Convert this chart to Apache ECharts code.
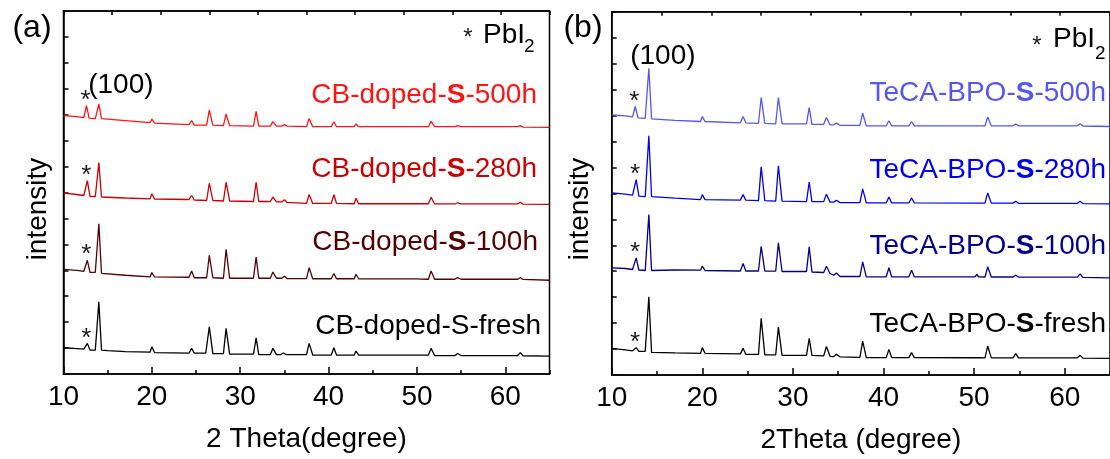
<!DOCTYPE html>
<html>
<head>
<meta charset="utf-8">
<script src="https://cdn.jsdelivr.net/npm/echarts@6/dist/echarts.min.js"></script>
<style>
html, body { margin: 0; padding: 0; background: #fff; }
#chart { width: 1110px; height: 459px; }
</style>
</head>
<body>
<div id="chart"></div>
<script>
// XRD patterns: [2θ (degree), intensity (a.u., stacked)]
const cb500 = [[10,259],[11.5,258],[12.3,257],[12.6,269],[12.9,256.5],[13.6,256],[14.0,270.7],[14.3,256],[17,254],[19.8,252],[20.0,255.7],[20.3,251.5],[24.2,250],[24.5,254],[24.8,249.5],[26.2,249.5],[26.5,264.7],[26.9,249.5],[28.1,249],[28.4,260.7],[28.8,249],[31.5,248.5],[31.8,263.3],[32.1,248.5],[33.4,248.5],[33.7,253],[34.1,248.5],[34.7,248.5],[35.0,250],[35.3,248.5],[37.5,248],[37.8,256.3],[38.2,248],[40.3,248],[40.6,253],[40.9,248],[42.9,248],[43.1,250.7],[43.4,248],[50.0,248],[50.2,248.5],[50.4,248],[51.3,248],[51.6,253.3],[52.0,248],[54.3,248],[54.6,249],[55.0,248],[61.4,248],[61.7,249],[62.0,247.5],[65,247.3]];
const cb280 = [[10,181.3],[11.5,180],[12.3,179],[12.7,194],[13.0,178],[13.6,178],[14.0,212],[14.3,177.5],[17,176.5],[19.8,175.7],[20.0,180.7],[20.3,175.5],[24.2,175],[24.5,179],[24.8,174.5],[26.2,174],[26.5,191.3],[26.9,174],[28.1,173.5],[28.4,192.3],[28.8,173.5],[31.5,173],[31.8,192.3],[32.1,173],[33.4,173],[33.7,177.3],[34.1,172.5],[34.7,172.5],[35.0,174.7],[35.3,172],[37.5,171],[37.8,180],[38.2,171],[40.3,171],[40.6,179.7],[40.9,171],[42.9,170.7],[43.1,176.3],[43.4,170.7],[50.0,170.7],[50.2,171.7],[50.4,170.7],[51.3,170.7],[51.6,177.3],[52.0,170.5],[54.3,170.5],[54.6,171.7],[55.0,170.5],[61.4,170.5],[61.7,172.3],[62.0,170.3],[65,170]];
const cb100 = [[10,105],[11.5,104],[12.3,103],[12.7,114],[13.0,102],[13.6,102],[14.0,150.7],[14.3,101],[17,99],[19.8,97.3],[20.0,101.7],[20.3,97.3],[24.2,97],[24.5,103.3],[24.8,96.5],[26.2,96.5],[26.5,119],[26.9,96.5],[28.1,96],[28.4,125],[28.8,96],[31.5,96],[31.8,117.3],[32.1,96],[33.4,96],[33.7,102.3],[34.1,96],[34.7,96],[35.0,98],[35.3,95.7],[37.5,95.7],[37.8,106.7],[38.2,95.5],[40.3,95.5],[40.6,100.7],[40.9,95.5],[42.9,95.5],[43.1,100],[43.4,95.5],[50.0,95.3],[50.2,97],[50.4,95.2],[51.3,95],[51.6,103.3],[52.0,95],[54.3,95],[54.6,96.7],[55.0,95],[59.3,95],[59.5,96],[59.7,95],[61.4,95],[61.7,96.7],[62.0,94.8],[65,94]];
const cbFresh = [[10,26.3],[11.5,25.5],[12.3,25],[12.7,30.7],[13.0,24],[13.6,24],[14.0,72.3],[14.3,24],[15,23.5],[17,22.5],[19.8,22],[20.0,27.3],[20.3,21.5],[24.2,21],[24.5,25.7],[24.8,21],[26.1,21],[26.5,47.3],[26.9,20.5],[28.1,20.5],[28.4,45.7],[28.8,20],[31.5,20],[31.8,36.3],[32.1,19.5],[33.4,19.5],[33.7,25.7],[34.1,19.5],[34.6,19.5],[34.9,21],[35.2,19.5],[37.5,19.5],[37.8,30.7],[38.2,19],[40.3,19],[40.6,26.3],[40.9,19],[42.9,19],[43.1,23],[43.4,19],[50.0,19],[50.2,20],[50.4,19],[51.3,19],[51.6,25.7],[52.0,18.5],[54.3,18.5],[54.6,20.5],[55.0,18.5],[61.4,18.5],[61.7,21.5],[62.0,18.3],[65,18]];

const te500 = [[10,260.7],[11.5,259.7],[12.3,258.7],[12.6,269],[12.9,257.7],[13.7,257.2],[14.1,307.4],[14.4,256.7],[17,255.2],[19.8,254],[20.0,259],[20.3,254],[24.2,252.7],[24.5,259],[24.8,252.7],[26.2,252.2],[26.5,278],[26.9,252.2],[28.1,251.7],[28.4,278],[28.8,251.7],[31.5,251.7],[31.8,268],[32.1,251.2],[33.4,251.2],[33.7,258],[34.1,250.7],[34.5,250.7],[34.8,252.4],[35.2,250.2],[37.4,250.2],[37.7,262.4],[38.1,249.7],[40.3,249.7],[40.6,254.7],[40.9,249.7],[42.8,249.7],[43.1,254],[43.4,249.7],[50.1,249.7],[50.3,251.7],[50.5,249.7],[51.2,249.7],[51.5,258.4],[51.9,249.7],[54.3,249.7],[54.6,251.4],[54.9,249.7],[60.3,249.7],[60.5,250.7],[60.7,249.7],[61.4,249.7],[61.7,251.7],[62.0,249.5],[65,249]];
const te280 = [[10,182.4],[11.5,181.2],[12.3,180.2],[12.7,195.7],[13.0,179.2],[13.7,178.7],[14.1,239.7],[14.4,178.7],[17,177.2],[19.8,175.7],[20.0,180.7],[20.3,175.7],[24.2,175.2],[24.5,180.7],[24.8,175.2],[26.2,174.7],[26.5,208.7],[26.9,174.7],[28.1,174.2],[28.4,209.7],[28.8,174.2],[31.5,173.7],[31.8,193.4],[32.1,173.7],[33.4,173.7],[33.7,181.2],[34.1,173.2],[34.5,173.2],[34.8,175],[35.2,172.7],[37.4,172.7],[37.7,186.4],[38.1,172.4],[40.3,172.4],[40.6,178.4],[40.9,172.4],[42.8,172.4],[43.1,177.4],[43.4,172.4],[50.1,172.3],[50.3,173.7],[50.5,172.3],[51.2,172.2],[51.5,182.4],[51.9,172.2],[54.3,172.2],[54.6,174],[54.9,172.1],[60.3,172],[60.5,172.7],[60.7,172],[61.4,172],[61.7,174],[62.0,171.8],[65,171.4]];
const te100 = [[10,107.4],[11.5,106.7],[12.3,105.7],[12.7,117.4],[13.0,105.2],[13.7,104.7],[14.1,160.7],[14.4,104.7],[17,105.2],[19.8,105],[20.0,109],[20.3,104.7],[24.2,104.2],[24.5,111.7],[24.8,104.2],[26.2,104.2],[26.5,129],[26.9,104],[28.1,104],[28.4,132.4],[28.8,103.7],[31.5,103.7],[31.8,128.4],[32.1,103.2],[33.4,102.7],[33.7,109],[34.1,101.7],[34.5,100],[34.8,102.2],[35.2,98.7],[37.4,98.7],[37.7,113.4],[38.1,98.4],[40.3,98.4],[40.6,107.4],[40.9,98.4],[42.8,98.4],[43.1,105],[43.4,98.4],[50.1,98.3],[50.3,100.7],[50.5,98.3],[51.2,98.2],[51.5,108.4],[51.9,98.2],[54.3,98.2],[54.6,100],[54.9,98.1],[60.3,98],[60.5,99.2],[60.7,98],[61.4,98],[61.7,101.4],[62.0,97.8],[65,97.4]];
const teFresh = [[10,26.7],[11.5,25.2],[12.3,24.2],[12.7,27.4],[13.0,23.7],[13.7,23.7],[14.1,78.4],[14.4,22.7],[17,22.2],[19.8,21.7],[20.0,27.4],[20.3,21.7],[24.2,21.2],[24.5,26.7],[24.8,20.7],[26.2,20.7],[26.5,56.7],[26.9,20.2],[28.1,20.2],[28.4,48],[28.8,19.7],[31.5,19.7],[31.8,36.7],[32.1,19.7],[33.4,19.2],[33.7,28.5],[34.1,18.7],[34.5,18.5],[34.8,20.7],[35.2,18.2],[37.4,17.7],[37.7,34],[38.1,17.4],[40.3,17.4],[40.6,25.7],[40.9,17.4],[42.8,17.4],[43.1,22.4],[43.4,17.4],[50.1,17.3],[50.3,18.4],[50.5,17.3],[51.2,17.2],[51.5,29],[51.9,17.2],[54.3,17.2],[54.6,21.4],[54.9,17.2],[60.3,17.2],[60.5,18.2],[60.7,17.2],[61.4,17.2],[61.7,19.7],[62.0,17],[65,16.7]];

// sample names (the bold "S" is marked with {b|...})
const namesA = ['CB-doped-{b|S}-500h', 'CB-doped-{b|S}-280h', 'CB-doped-{b|S}-100h', 'CB-doped-S-fresh'];
const namesB = ['TeCA-BPO-{b|S}-500h', 'TeCA-BPO-{b|S}-280h', 'TeCA-BPO-{b|S}-100h', 'TeCA-BPO-{b|S}-fresh'];
const colorsA = ['#ff1414', '#cc0000', '#560000', '#000000'];
const colorsB = ['#5555f2', '#0000f0', '#00008c', '#000000'];
const xTicks = [10, 20, 30, 40, 50, 60];

const FONT = '"Liberation Sans", Arial, Helvetica, sans-serif';
const tracesA = [cb500, cb280, cb100, cbFresh];
const tracesB = [te500, te280, te100, teFresh];

// strongest point of a pattern inside a 2θ window
function peakIn(trace, lo, hi) {
  let best = null;
  trace.forEach(p => { if (p[0] >= lo && p[0] <= hi && (!best || p[1] > best[1])) best = p; });
  return best;
}

const grids = [
  { left: 63.5, top: 11, width: 486, height: 363 },
  { left: 611.7, top: 11.7, width: 505.5, height: 364 }
];

function xAxesFor(gi, title) {
  const line = { show: true, lineStyle: { color: '#000', width: 1.5 } };
  return [
    { gridIndex: gi, type: 'value', position: 'bottom', min: 10, max: 65, interval: 10,
      axisLine: line, splitLine: { show: false },
      axisTick: { inside: true, length: 7, lineStyle: { color: '#000', width: 1.5 }, customValues: xTicks },
      axisLabel: { customValues: xTicks, color: '#000', fontSize: 28, fontFamily: FONT, margin: 9 },
      name: title, nameLocation: 'middle', nameGap: 51,
      nameTextStyle: { color: '#000', fontSize: 28, fontFamily: FONT } },
    { gridIndex: gi, type: 'value', position: 'bottom', min: 10, max: 65, interval: 5,
      axisLine: { show: false }, splitLine: { show: false }, axisLabel: { show: false },
      axisTick: { inside: true, length: 4, lineStyle: { color: '#000', width: 1.5 } } },
    { gridIndex: gi, type: 'value', position: 'top', min: 0, max: 10, interval: 1,
      axisLine: line, splitLine: { show: false }, axisLabel: { show: false },
      axisTick: { inside: true, length: 4, lineStyle: { color: '#000', width: 1.5 } } }
  ];
}

function yAxisFor(gi) {
  return { gridIndex: gi, type: 'value', position: 'left', min: 0, max: 364, interval: 26,
    axisLine: { show: true, lineStyle: { color: '#000', width: 1.5 } },
    splitLine: { show: false }, axisLabel: { show: false },
    axisTick: { inside: true, length: 5, lineStyle: { color: '#000', width: 1.5 } } };
}

function lineSeries(traces, colors, xi, yi) {
  return traces.map((t, i) => ({
    type: 'line', xAxisIndex: xi, yAxisIndex: yi, data: t, symbol: 'none',
    lineStyle: { color: colors[i], width: 1.3 }, silent: true, animation: false, z: 3
  }));
}

function starSeries(traces, xi, yi) {
  return {
    type: 'scatter', xAxisIndex: xi, yAxisIndex: yi, symbolSize: 0, silent: true, animation: false,
    itemStyle: { opacity: 1 },
    data: traces.map(t => peakIn(t, 12.4, 13.0)),
    label: { show: true, position: 'top', distance: 0, formatter: '*', color: '#1a1a1a',
      fontSize: 26, fontFamily: FONT, offset: [-1, 8] }
  };
}

function hklSeries(trace, xi, yi, offset) {
  return {
    type: 'scatter', xAxisIndex: xi, yAxisIndex: yi, symbolSize: 0, silent: true, animation: false,
    itemStyle: { opacity: 1 },
    data: [peakIn(trace, 13.8, 14.3)],
    label: { show: true, position: 'top', distance: 5, formatter: '(100)', color: '#000',
      fontSize: 28, fontFamily: FONT, offset: offset }
  };
}

function nameText(text, color, right, y) {
  return { type: 'text', x: right, y: y, z: 10, silent: true,
    style: { text: text, fill: color, font: '28px ' + FONT, align: 'right', verticalAlign: 'middle',
      rich: { b: { fontWeight: 'bold', fontSize: 28, fontFamily: FONT, fill: color } } } };
}

function plainText(text, x, y, size, opts) {
  return Object.assign({ type: 'text', x: x, y: y, z: 10, silent: true,
    style: { text: text, fill: '#000', font: size + 'px ' + FONT, align: 'center', verticalAlign: 'middle' } }, opts || {});
}

const labelYA = [95, 169, 242, 326];
const labelRightA = [537, 537, 538, 541];
const labelYB = [93, 170, 246, 324];

const graphics = [
  plainText('(a)', 32, 28, 32),
  plainText('(b)', 583, 28, 32),
  plainText('intensity', 38, 209, 28, { rotation: Math.PI / 2 }),
  plainText('intensity', 580, 209, 28, { rotation: Math.PI / 2 }),
  plainText('*', 468, 38, 24, { style: { text: '*', fill: '#1a1a1a', font: '24px ' + FONT, align: 'center', verticalAlign: 'middle' } }),
  plainText('PbI', 483, 35, 28, { style: { text: 'PbI', fill: '#000', font: '28px ' + FONT, align: 'left', verticalAlign: 'middle' } }),
  plainText('2', 524, 47, 19, { style: { text: '2', fill: '#000', font: '19px ' + FONT, align: 'left', verticalAlign: 'middle' } }),
  plainText('*', 1037, 46, 24, { style: { text: '*', fill: '#1a1a1a', font: '24px ' + FONT, align: 'center', verticalAlign: 'middle' } }),
  plainText('PbI', 1053, 39, 28, { style: { text: 'PbI', fill: '#000', font: '28px ' + FONT, align: 'left', verticalAlign: 'middle' } }),
  plainText('2', 1095, 54, 19, { style: { text: '2', fill: '#000', font: '19px ' + FONT, align: 'left', verticalAlign: 'middle' } })
];
namesA.forEach((n, i) => graphics.push(nameText(n, colorsA[i], labelRightA[i], labelYA[i])));
namesB.forEach((n, i) => graphics.push(nameText(n, colorsB[i], 1106, labelYB[i])));

const chart = echarts.init(document.getElementById('chart'), null, { renderer: 'canvas' });
chart.setOption({
  backgroundColor: '#fff',
  animation: false,
  grid: grids.map(g => Object.assign({ show: true, borderColor: '#000', borderWidth: 1.5, backgroundColor: 'transparent', containLabel: false }, g)),
  xAxis: xAxesFor(0, '2 Theta(degree)').concat(xAxesFor(1, '2Theta (degree)')),
  yAxis: [yAxisFor(0), yAxisFor(1)],
  series: [].concat(
    lineSeries(tracesA, colorsA, 0, 0),
    lineSeries(tracesB, colorsB, 3, 1),
    [starSeries(tracesA, 0, 0), starSeries(tracesB, 3, 1),
     hklSeries(cb500, 0, 0, [22, 0]), hklSeries(te500, 3, 1, [14, 7])]
  ),
  graphic: graphics
});
</script>
</body>
</html>
